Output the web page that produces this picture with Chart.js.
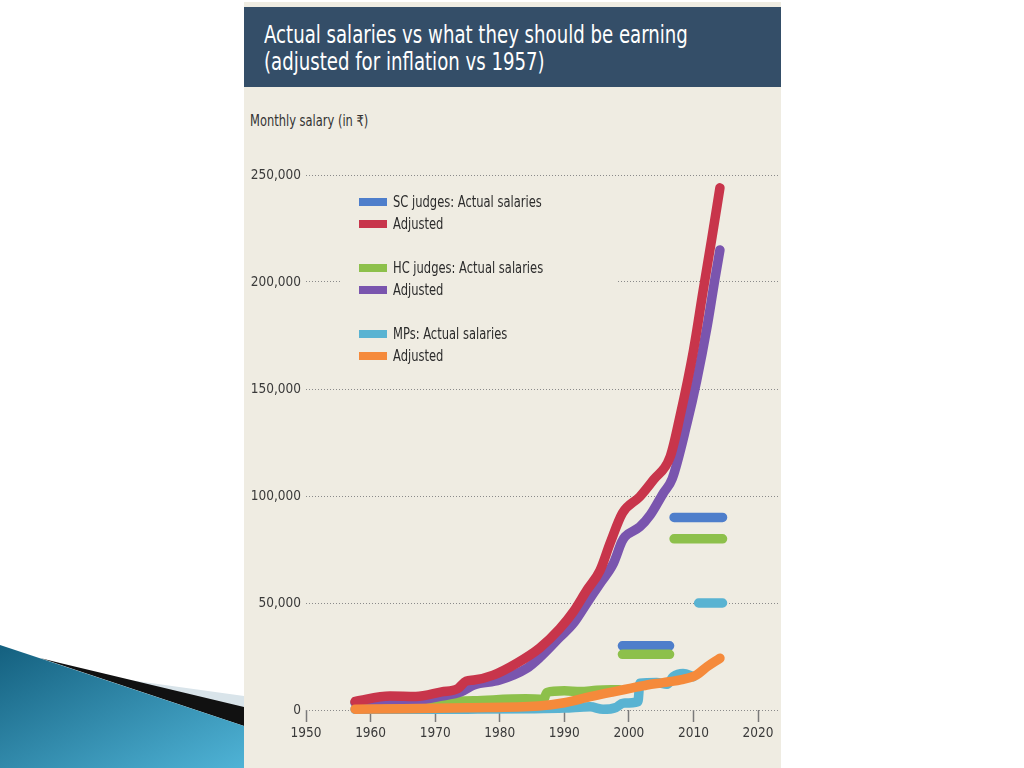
<!DOCTYPE html>
<html>
<head>
<meta charset="utf-8">
<script src="https://cdn.jsdelivr.net/npm/chart.js@4.4.1/dist/chart.umd.min.js"></script>
<style>
  html, body { margin: 0; padding: 0; background: #fff; }
  body { width: 1024px; height: 768px; position: relative; overflow: hidden; }
  .swoosh { position: absolute; left: 0; top: 0; }
  .panel { position: absolute; left: 244px; top: 2px; width: 537px; height: 766px; background: #efece2; }
  .header { position: absolute; left: 244px; top: 7px; width: 537px; height: 80px; background: #344e68; }
  .title { position: absolute; left: 264px; top: 22px; color: #fff; font: 24px/27px 'DejaVu Sans Condensed', sans-serif; white-space: nowrap; transform: scaleX(0.84); transform-origin: 0 0; }
  .unit { position: absolute; left: 250px; top: 114px; color: #333; font: 15px/15px 'DejaVu Sans Condensed', sans-serif; white-space: nowrap; transform: scaleX(0.85); transform-origin: 0 0; }
  #chart { position: absolute; left: 244px; top: 87px; }
</style>
</head>
<body>
<svg class="swoosh" width="244" height="768">
  <defs>
    <linearGradient id="blue" x1="0" y1="0" x2="1" y2="1">
      <stop offset="0" stop-color="#14607f"/>
      <stop offset="1" stop-color="#4fb3d6"/>
    </linearGradient>
  </defs>
  <polygon points="100,676 244,696 244,708" fill="#d9e4ea"/>
  <polygon points="60,663 244,707 244,726 40,658" fill="#111"/>
  <polygon points="0,645 244,726 244,768 0,768" fill="url(#blue)"/>
</svg>
<div class="panel"></div>
<div class="header"></div>
<div class="title">Actual salaries vs what they should be earning<br>(adjusted for inflation vs 1957)</div>
<div class="unit">Monthly salary (in ₹)</div>
<canvas id="chart" width="537" height="681"></canvas>
<script>
// tick labels
const xTicks = [1950, 1960, 1970, 1980, 1990, 2000, 2010, 2020];
const yTicks = [0, 50000, 100000, 150000, 200000, 250000];

// SC judges
const scActualYears = [1999, 2006.3, 2006.5, 2007, 2014.5];
const scActualValues = [30000, 30000, null, 90000, 90000];
const scAdjYears = [1957.6, 1963, 1967, 1971, 1973.5, 1974.8, 1976, 1979, 1982.6, 1986.2, 1989.3, 1991.4, 1993.5, 1995.5, 1997.1, 1999, 2001.7, 2003.8, 2006.4, 2007.9, 2010, 2011.5, 2012.8, 2014.1];
const scAdjValues = [4000, 6500, 6300, 8500, 10000, 13500, 14000, 16300, 21800, 29000, 38000, 45900, 56000, 65000, 78000, 92000, 99700, 107500, 118400, 137000, 168000, 196000, 219600, 244000];

// HC judges
const hcActualYears = [1957.6, 1965, 1970, 1976, 1984, 1986.8, 1987.3, 1990, 1992.5, 1995, 1998.5, 1998.8, 1999, 2006.3, 2006.5, 2007, 2014.5];
const hcActualValues = [3500, 3500, 3800, 4300, 5200, 5000, 8200, 9000, 8600, 9200, 9500, null, 26000, 26000, null, 80000, 80000];
const hcAdjYears = [1957.6, 1963, 1967, 1971, 1974, 1976, 1980, 1984.2, 1986.2, 1989.3, 1991.4, 1993.5, 1995.5, 1997.6, 1998.9, 1999.4, 2001.7, 2003.3, 2005.3, 2006.7, 2009, 2010.5, 2012.1, 2013.3, 2014.1];
const hcAdjValues = [3500, 4800, 4600, 6500, 8500, 11700, 14000, 19500, 24500, 34000, 40500, 50000, 59000, 68500, 78600, 81000, 85600, 91100, 101200, 108000, 134000, 154000, 179000, 201000, 215000];

// MPs
const mpActualYears = [1957.6, 1975, 1985, 1990, 1994, 1996, 1998, 1999.1, 2001.4, 2001.7, 2004.3, 2005.9, 2006.9, 2008.4, 2010, 2010.4, 2010.8, 2014.5];
const mpActualValues = [300, 400, 600, 900, 1500, 300, 1200, 3200, 3900, 12500, 12800, 12000, 15600, 17100, 15600, null, 50000, 50000];
const mpAdjYears = [1957.6, 1965, 1975, 1986, 1990, 1994, 1997.6, 2000.2, 2002.8, 2005.3, 2008.4, 2010.5, 2012.1, 2014.1];
const mpAdjValues = [400, 600, 1100, 1900, 3400, 6200, 8500, 10100, 11700, 12800, 14300, 16400, 20200, 24200];

const labels = ['SC judges: Actual salaries', 'Adjusted', 'HC judges: Actual salaries', 'Adjusted', 'MPs: Actual salaries', 'Adjusted'];
const colors = ['#4e7ecb', '#c8354b', '#8dc04b', '#7a55ae', '#59b3d2', '#f58a3b'];

const pts = (xs, ys) => xs.map((x, i) => ({ x: x, y: ys[i] }));

const series = [
  pts(scActualYears, scActualValues),
  pts(scAdjYears, scAdjValues),
  pts(hcActualYears, hcActualValues),
  pts(hcAdjYears, hcAdjValues),
  pts(mpActualYears, mpActualValues),
  pts(mpAdjYears, mpAdjValues),
];
// draw order: lower = on top
const drawOrder = [5, 2, 4, 3, 6, 1];

const FONT = "'DejaVu Sans Condensed', sans-serif";

// legend drawn inside the plot, in three groups
const groupLegend = {
  id: 'groupLegend',
  beforeDatasetsDraw(chart) {
    const ctx = chart.ctx;
    ctx.save();
    // legend box hides the gridline behind it
    ctx.fillStyle = '#efece2';
    ctx.fillRect(97, 100, 276, 185);
    ctx.font = '16px ' + FONT;
    ctx.textBaseline = 'middle';
    chart.data.datasets.forEach((ds, i) => {
      const y = 115 + i * 22 + Math.floor(i / 2) * 22;
      ctx.fillStyle = ds.borderColor;
      ctx.fillRect(115, y - 4, 28, 8);
      ctx.fillStyle = '#2b2b2b';
      ctx.save();
      ctx.translate(149, y + 1);
      ctx.scale(0.8, 1);
      ctx.fillText(ds.label, 0, 0);
      ctx.restore();
    });
    ctx.restore();
  }
};

new Chart(document.getElementById('chart'), {
  type: 'line',
  data: {
    datasets: series.map((data, i) => ({
      label: labels[i],
      data: data,
      borderColor: colors[i],
      backgroundColor: colors[i],
      borderWidth: 9.5,
      borderCapStyle: 'round',
      borderJoinStyle: 'round',
      pointRadius: 0,
      cubicInterpolationMode: 'monotone',
      spanGaps: false,
      clip: false,
      order: drawOrder[i],
    })),
  },
  options: {
    responsive: false,
    animation: false,
    events: [],
    layout: { padding: { top: 88, right: 1, left: 0, bottom: 0 } },
    plugins: { legend: { display: false }, tooltip: { enabled: false } },
    scales: {
      x: {
        type: 'linear',
        min: 1950,
        max: 2023.4,
        afterBuildTicks: (scale) => { scale.ticks = xTicks.map(v => ({ value: v })); },
        afterFit: (scale) => { scale.height = 58; },
        grid: { drawOnChartArea: false, drawTicks: true, tickLength: 12, tickColor: '#7a7a7a', tickWidth: 1.5 },
        border: { display: false },
        ticks: { padding: 3, color: '#3a3a3a', font: { family: FONT, size: 13.5 }, maxRotation: 0, callback: v => String(v) },
      },
      y: {
        min: 0,
        max: 250000,
        afterBuildTicks: (scale) => { scale.ticks = yTicks.map(v => ({ value: v })); },
        afterFit: (scale) => { scale.width = 62; },
        grid: { drawTicks: false, color: '#8a8a8a', lineWidth: 1 },
        border: { display: false, dash: [1, 2] },
        ticks: { padding: 5, color: '#3a3a3a', font: { family: FONT, size: 13.5 }, callback: v => v.toLocaleString('en-US') },
      },
    },
  },
  plugins: [groupLegend],
});
</script>
</body>
</html>
